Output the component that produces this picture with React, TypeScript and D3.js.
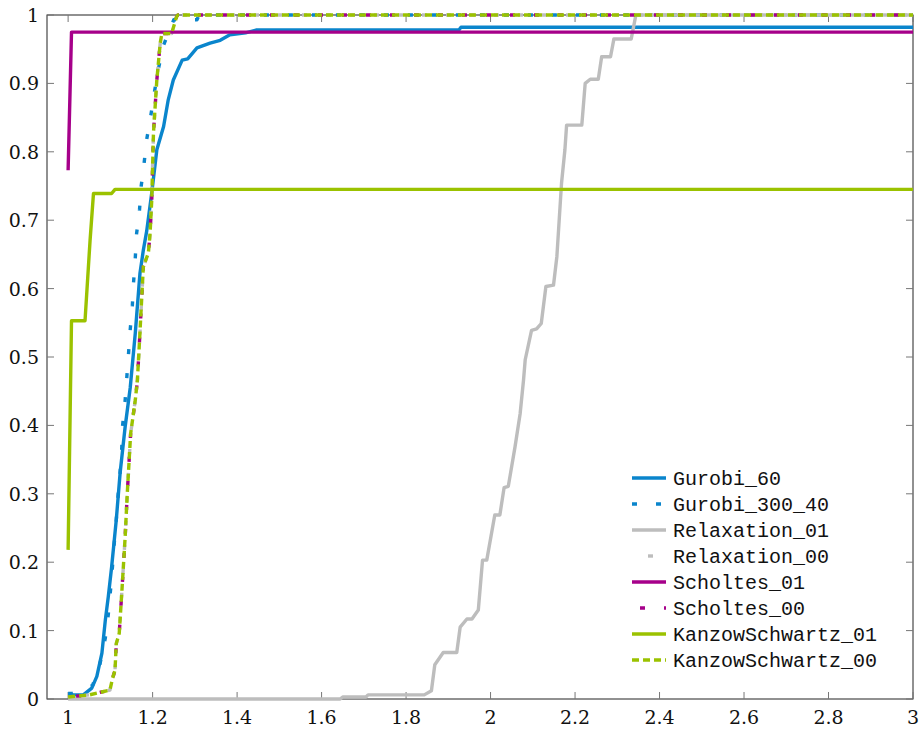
import React from "react";
import * as d3 from "d3";

// tick values
const xTicks = [1, 1.2, 1.4, 1.6, 1.8, 2, 2.2, 2.4, 2.6, 2.8, 3];
const yTicks = [0, 0.1, 0.2, 0.3, 0.4, 0.5, 0.6, 0.7, 0.8, 0.9, 1];

// performance profiles, [tau, fraction]
const gurobi60 = [
  [1, 0.006], [1.036, 0.006], [1.056, 0.016], [1.068, 0.033], [1.08, 0.067],
  [1.088, 0.115], [1.095, 0.149], [1.103, 0.193], [1.114, 0.262], [1.123, 0.33],
  [1.135, 0.398], [1.147, 0.455], [1.159, 0.535], [1.17, 0.622], [1.178, 0.656],
  [1.186, 0.684], [1.198, 0.74], [1.21, 0.803], [1.226, 0.837], [1.237, 0.876],
  [1.249, 0.905], [1.27, 0.934], [1.283, 0.936], [1.305, 0.952], [1.336, 0.959],
  [1.36, 0.963], [1.383, 0.971], [1.42, 0.974], [1.445, 0.978], [1.925, 0.978],
  [1.93, 0.982], [3, 0.982],
];

const gurobi300_40 = [
  [1, 0.008], [1.009, 0.008], [1.058, 0.02], [1.075, 0.05], [1.088, 0.089],
  [1.095, 0.123], [1.102, 0.17], [1.109, 0.226], [1.114, 0.262], [1.118, 0.296],
  [1.123, 0.331], [1.127, 0.367], [1.129, 0.4], [1.135, 0.437], [1.139, 0.471],
  [1.143, 0.505], [1.147, 0.54], [1.152, 0.575], [1.155, 0.61], [1.159, 0.645],
  [1.162, 0.68], [1.169, 0.715], [1.173, 0.75], [1.18, 0.784], [1.186, 0.818],
  [1.196, 0.854], [1.205, 0.89], [1.215, 0.925], [1.226, 0.956], [1.25, 0.993],
  [1.305, 0.993], [1.31, 1], [3, 1],
];

const relaxation01 = [
  [1, 0], [1.644, 0], [1.65, 0.003], [1.705, 0.003], [1.71, 0.006], [1.843, 0.006],
  [1.86, 0.012], [1.868, 0.05], [1.888, 0.068], [1.92, 0.068], [1.928, 0.105],
  [1.944, 0.117], [1.956, 0.117], [1.971, 0.13], [1.981, 0.203], [1.991, 0.203],
  [2.01, 0.269], [2.022, 0.269], [2.032, 0.309], [2.042, 0.311], [2.058, 0.369],
  [2.07, 0.417], [2.078, 0.466], [2.082, 0.496], [2.097, 0.539], [2.109, 0.541],
  [2.12, 0.549], [2.131, 0.603], [2.149, 0.605], [2.157, 0.647], [2.168, 0.754],
  [2.176, 0.803], [2.18, 0.839], [2.216, 0.839], [2.224, 0.9], [2.236, 0.906],
  [2.255, 0.906], [2.263, 0.939], [2.284, 0.939], [2.292, 0.965], [2.333, 0.965],
  [2.344, 1], [3, 1],
];

// the three "_00" runs lie on top of each other
const relaxed00 = [
  [1, 0.003], [1.05, 0.006], [1.099, 0.013], [1.105, 0.03], [1.111, 0.042],
  [1.114, 0.081], [1.121, 0.096], [1.127, 0.155], [1.135, 0.237], [1.14, 0.3],
  [1.148, 0.388], [1.159, 0.437], [1.164, 0.466], [1.17, 0.535], [1.178, 0.632],
  [1.19, 0.652], [1.194, 0.681], [1.198, 0.73], [1.202, 0.827], [1.21, 0.905],
  [1.218, 0.959], [1.222, 0.973], [1.245, 0.973], [1.257, 0.998], [1.26, 1], [3, 1],
];
const relaxation00 = relaxed00;
const scholtes00 = relaxed00;
const kanzow00 = relaxed00;

const scholtes01 = [[1, 0.773], [1.008, 0.975], [3, 0.975]];

const kanzow01 = [
  [1, 0.218], [1.008, 0.553], [1.04, 0.553], [1.052, 0.671], [1.06, 0.739],
  [1.103, 0.739], [1.111, 0.745], [3, 0.745],
];

const BLUE = "#0a85cc";
const GRAY = "#bdbdbd";
const MAGENTA = "#a6008a";
const GREEN = "#9bc200";

const series = [
  { name: "Gurobi_60", data: gurobi60, color: BLUE, dash: null, offset: 0 },
  { name: "Gurobi_300_40", data: gurobi300_40, color: BLUE, dash: "5 19", offset: 0 },
  { name: "Relaxation_01", data: relaxation01, color: GRAY, dash: null, offset: 0 },
  { name: "Relaxation_00", data: relaxation00, color: GRAY, dash: "5 19", offset: 8 },
  { name: "Scholtes_01", data: scholtes01, color: MAGENTA, dash: null, offset: 0 },
  { name: "Scholtes_00", data: scholtes00, color: MAGENTA, dash: "5 19", offset: 16 },
  { name: "KanzowSchwartz_01", data: kanzow01, color: GREEN, dash: null, offset: 0 },
  { name: "KanzowSchwartz_00", data: kanzow00, color: GREEN, dash: "7 4", offset: 0 },
];

const W = 919;
const H = 729;
const margin = { top: 15, right: 6, bottom: 30, left: 47 };

export default function App() {
  const x = d3.scaleLinear().domain([0.95, 3]).range([margin.left, W - margin.right]);
  const y = d3.scaleLinear().domain([0, 1]).range([H - margin.bottom, margin.top]);
  const line = d3.line<number[]>().x(d => x(d[0])).y(d => y(d[1]));

  const x0 = margin.left, x1 = W - margin.right;
  const y0 = H - margin.bottom, y1 = margin.top;
  const tickLen = 7;
  const serif = "'DejaVu Serif', serif";
  const mono = "'Liberation Mono', 'DejaVu Sans Mono', monospace";

  const legendX = 632, legendY = 478, legendStep = 26;

  return (
    <div style={{ position: "absolute", left: 0, top: 0 }}>
      <svg width={W} height={H} style={{ display: "block", background: "#fff" }}>
        {/* frame */}
        <rect x={x0} y={y1} width={x1 - x0} height={y0 - y1} fill="none" stroke="#222" strokeWidth={1} />
        {/* ticks */}
        <g stroke="#777" strokeWidth={1}>
          {xTicks.map(t => (
            <g key={"xt" + t}>
              <line x1={x(t)} x2={x(t)} y1={y0} y2={y0 - tickLen} />
              <line x1={x(t)} x2={x(t)} y1={y1} y2={y1 + tickLen} />
            </g>
          ))}
          {yTicks.map(t => (
            <g key={"yt" + t}>
              <line x1={x0} x2={x0 + tickLen} y1={y(t)} y2={y(t)} />
              <line x1={x1} x2={x1 - tickLen} y1={y(t)} y2={y(t)} />
            </g>
          ))}
        </g>
        <g style={{ fontFamily: serif, fontSize: 19 }} fill="#111">
          {xTicks.map(t => (
            <text key={"xl" + t} x={x(t)} y={724} textAnchor="middle">{String(t)}</text>
          ))}
          {yTicks.map(t => (
            <text key={"yl" + t} x={39} y={y(t) + 7} textAnchor="end">{String(t)}</text>
          ))}
        </g>
        {/* curves */}
        <g fill="none" strokeWidth={3.4} strokeLinejoin="round">
          {series.map(s => (
            <path
              key={s.name}
              d={line(s.data) || ""}
              stroke={s.color}
              strokeDasharray={s.dash || undefined}
              strokeDashoffset={s.offset}
            />
          ))}
        </g>
        {/* legend */}
        <g style={{ fontFamily: mono, fontSize: 20 }} fill="#111">
          {series.map((s, i) => {
            const ly = legendY + i * legendStep;
            return (
              <g key={"lg" + s.name}>
                <line
                  x1={legendX}
                  x2={legendX + 34}
                  y1={ly}
                  y2={ly}
                  stroke={s.color}
                  strokeWidth={3.4}
                  strokeDasharray={s.dash || undefined}
                  strokeDashoffset={s.offset}
                />
                <text x={legendX + 41} y={ly + 6.5}>{s.name}</text>
              </g>
            );
          })}
        </g>
      </svg>
    </div>
  );
}
